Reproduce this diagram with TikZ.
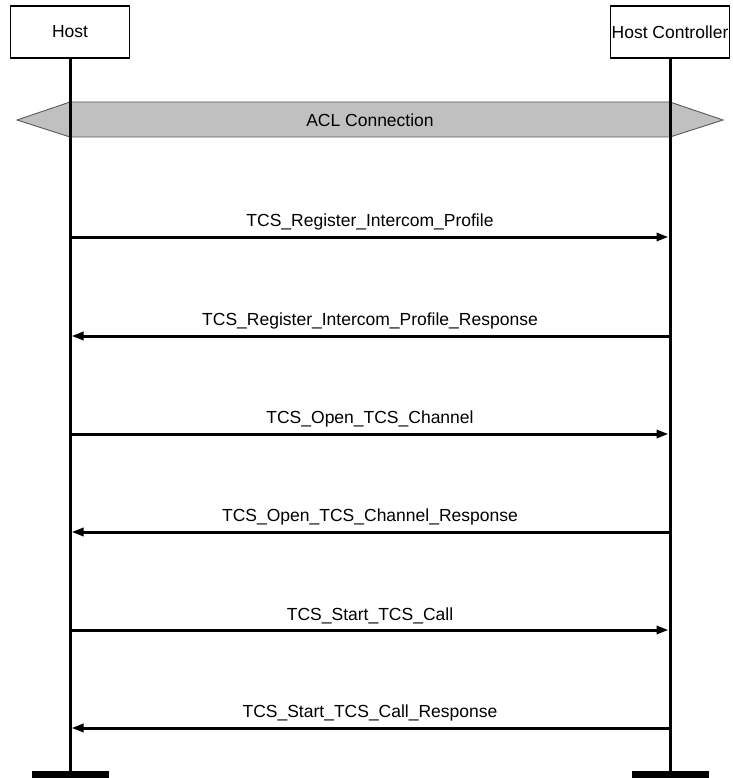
\documentclass[tikz,border=0pt]{standalone}
\usepackage{fontspec}
\setmainfont{Liberation Sans}
\usetikzlibrary{arrows.meta}
\definecolor{aclgrey}{HTML}{C0C0C0}

\begin{document}
\begin{tikzpicture}[x=1pt,y=-1pt,>={Triangle[length=12pt,width=8pt]},
  font=\fontsize{17.5}{21}\selectfont,
  actor/.style={draw,line width=1.2pt,fill=white,minimum width=119pt,minimum height=52pt,inner sep=0pt},
  life/.style={line width=3pt},
  msg/.style={line width=3pt,->,shorten >=1.5pt},
  msglabel/.style={midway,above=5pt,inner sep=0pt},
  stopbar/.style={fill=black,minimum width=77pt,minimum height=7pt,inner sep=0pt}]
\useasboundingbox (0,0) rectangle (732,778);
% participants
\node[actor] (host) at (70,32) {Host};
\node[actor] (hc) at (670,32) {Host Controller};
\node[stopbar,anchor=north] (hostend) at (70,771) {};
\node[stopbar,anchor=north] (hcend) at (670,771) {};
% ACL band
\draw[fill=aclgrey,draw=black!65,line width=0.9pt] (17,120) -- (70,102) -- (670,102) -- (723,120) -- (670,137) -- (70,137) -- cycle;
\node (acl) at (370,120) {ACL Connection};
% lifelines
\draw[life] (host.south) -- (hostend.north);
\draw[life] (hc.south) -- (hcend.north);
% message points
\coordinate (h1) at (70,237); \coordinate (c1) at (670,237);
\coordinate (h2) at (70,336); \coordinate (c2) at (670,336);
\coordinate (h3) at (70,434); \coordinate (c3) at (670,434);
\coordinate (h4) at (70,532); \coordinate (c4) at (670,532);
\coordinate (h5) at (70,630); \coordinate (c5) at (670,630);
\coordinate (h6) at (70,728); \coordinate (c6) at (670,728);
% messages
\draw[msg] (h1) -- (c1) node[msglabel]{TCS\_Register\_Intercom\_Profile};
\draw[msg] (c2) -- (h2) node[msglabel]{TCS\_Register\_Intercom\_Profile\_Response};
\draw[msg] (h3) -- (c3) node[msglabel]{TCS\_Open\_TCS\_Channel};
\draw[msg] (c4) -- (h4) node[msglabel]{TCS\_Open\_TCS\_Channel\_Response};
\draw[msg] (h5) -- (c5) node[msglabel]{TCS\_Start\_TCS\_Call};
\draw[msg] (c6) -- (h6) node[msglabel]{TCS\_Start\_TCS\_Call\_Response};
\end{tikzpicture}
\end{document}
